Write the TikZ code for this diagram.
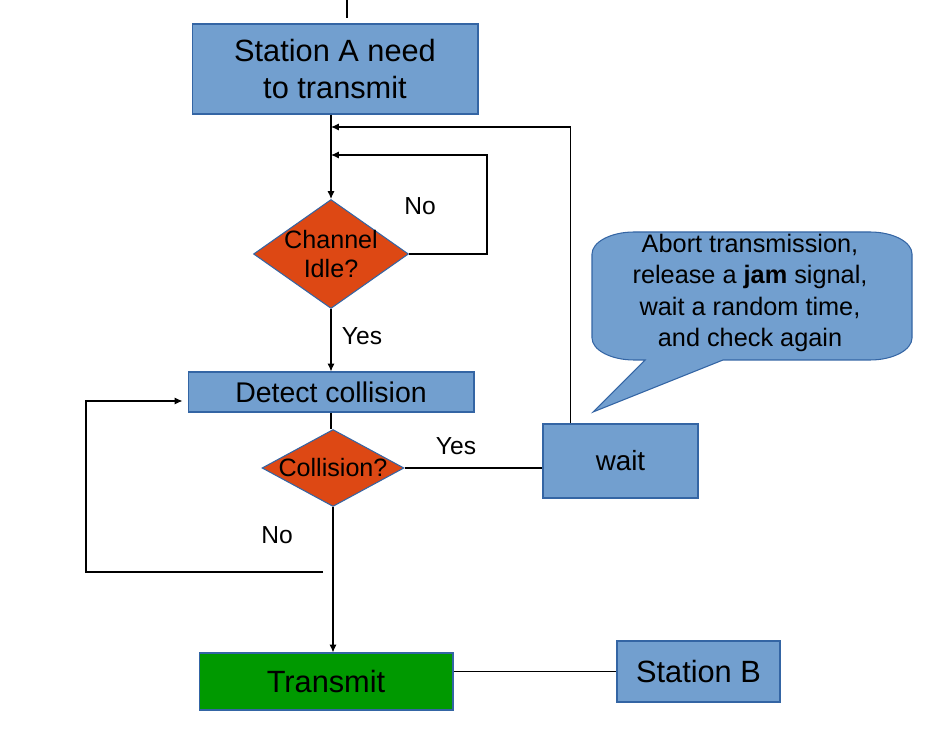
\documentclass[tikz,border=0pt]{standalone}
\usepackage{fontspec}
\setmainfont{Liberation Sans}
\usetikzlibrary{arrows.meta,shapes.geometric,positioning}
\definecolor{boxblue}{HTML}{729FCF}
\definecolor{edgeblue}{HTML}{3465A4}
\definecolor{idleorange}{HTML}{DD4814}
\definecolor{sendgreen}{HTML}{009900}

\begin{document}
\begin{tikzpicture}[
    x=0.02cm, y=-0.02cm,
    >={Latex[length=4.5pt,width=4pt]},
    line/.style={draw=black, line width=0.6pt},
    process/.style={rectangle, draw=edgeblue, fill=boxblue, line width=0.6pt, inner sep=0pt, align=center, font=\fontsize{17.5}{21.5}\selectfont},
    decision/.style={diamond, draw=edgeblue, fill=idleorange, line width=0.6pt, inner sep=0pt},
    decisiontext/.style={align=center, font=\fontsize{14.3}{16.5}\selectfont},
    answer/.style={font=\fontsize{14}{16}\selectfont},
    calloutbody/.style={draw=edgeblue, fill=boxblue, line width=0.6pt},
    notetext/.style={align=center, font=\fontsize{14.4}{18}\selectfont}
]
\useasboundingbox (0,0) rectangle (926,739);

% Flow boxes
\node[process, minimum width=5.72cm, minimum height=1.8cm] (stationA) at (335,69) {Station A need\hspace{0.28em}\\to transmit};
\node[decision, minimum width=3.1cm, minimum height=2.18cm, label={[decisiontext]center:Channel\\Idle?}] (idle) at (331,254) {};
\node[process, minimum width=5.72cm, minimum height=0.8cm, font=\fontsize{16.2}{19}\selectfont] (detect) at (331,392) {Detect collision};
\node[decision, minimum width=2.84cm, minimum height=1.54cm, label={[decisiontext]center:Collision?}] (collision) at (333,468) {};
\node[process, minimum width=3.1cm, minimum height=1.48cm, font=\fontsize{15.8}{19}\selectfont] (wait) at (620.5,461) {wait};
\node[process, fill=sendgreen, minimum width=5.08cm, minimum height=1.14cm] (transmit) at (326,681.5) {Transmit};
\node[process, minimum width=3.26cm, minimum height=1.22cm] (stationB) at (698.5,671.5) {Station B};

% Speech bubble
\path[calloutbody] (750,232) -- (634,232) .. controls (611,232) and (592,242) .. (592,254)
    -- (592,338) .. controls (592,350) and (611,360) .. (634,360)
    -- (645,360) -- (593,412) -- (723,360) -- (870,360)
    .. controls (893,360) and (912,350) .. (912,338) -- (912,254)
    .. controls (912,242) and (893,232) .. (870,232) -- cycle;
\node[notetext] (abort) at (750,293) {Abort transmission,\\release a \textbf{jam} signal,\\wait a random time,\\and check again};

% Free ends
\coordinate (entry) at (347,0);
\coordinate (retry) at (331,127);
\coordinate (idleback) at (331,155);
\coordinate (nostart) at (323,572);

% Connections
\draw[line, shorten >=3.4pt] (entry) -- (entry |- stationA.north);
\draw[line, ->] (stationA.south -| idle.north) -- (idle.north);
\draw[line, ->] (idle.east) -- ++(78,0) |- (idleback);
\draw[line, ->] ([xshift=-1cm]wait.north) |- (retry);
\draw[line, ->] (idle.south) -- (idle.south |- detect.north);
\draw[line] (detect.south) -- (detect.south |- collision.north);
\draw[line] (collision.east) -- (collision.east -| wait.west);
\draw[line, ->] (collision.south) -- (collision.south |- transmit.north);
\draw[line, ->] (nostart) -- ++(-237,0) |- ([xshift=-0.1cm,yshift=-0.18cm]detect.west);
\draw[line] (stationB.west -| transmit.east) -- (stationB.west);

% Answers
\node[answer] (idleno) at (420,206) {No};
\node[answer] (idleyes) at (362,336) {Yes};
\node[answer] (colyes) at (456,446) {Yes};
\node[answer] (colno) at (277,535) {No};

\end{tikzpicture}
\end{document}
